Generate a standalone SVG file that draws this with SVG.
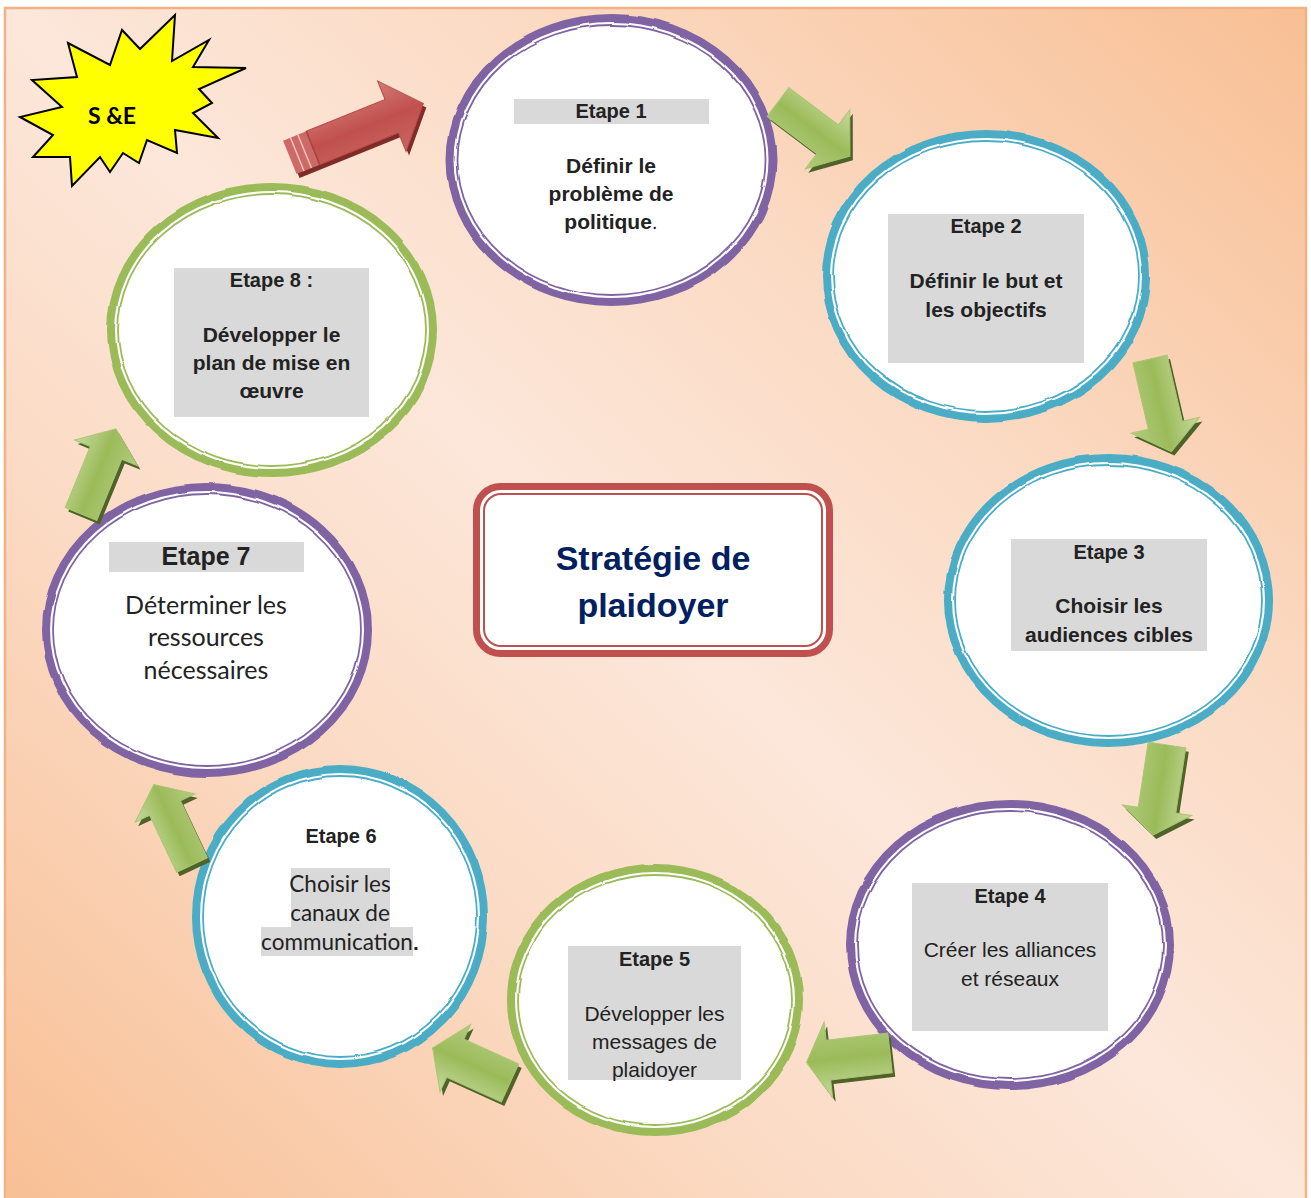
<svg xmlns="http://www.w3.org/2000/svg" width="1311" height="1198" viewBox="0 0 1311 1198">
  <defs>
    <linearGradient id="bg" x1="1" y1="0" x2="0" y2="1">
      <stop offset="0" stop-color="#f8bf94"/>
      <stop offset="0.3" stop-color="#fbdac3"/>
      <stop offset="0.5" stop-color="#fce7da"/>
      <stop offset="0.7" stop-color="#fbdac3"/>
      <stop offset="1" stop-color="#f8bf94"/>
    </linearGradient>
    <linearGradient id="greenFill" x1="0" y1="0" x2="0" y2="1">
      <stop offset="0" stop-color="#c6da9f"/>
      <stop offset="0.5" stop-color="#9bbb59"/>
      <stop offset="1" stop-color="#b2cb80"/>
    </linearGradient>
    <linearGradient id="redFill" x1="0" y1="0" x2="0" y2="1">
      <stop offset="0" stop-color="#d47a77"/>
      <stop offset="0.5" stop-color="#c0504d"/>
      <stop offset="1" stop-color="#c96663"/>
    </linearGradient>
    <!-- gentle hand-drawn waviness for the ring outlines -->
    <filter id="wobble" x="-5%" y="-5%" width="110%" height="110%">
      <feTurbulence type="fractalNoise" baseFrequency="0.03" numOctaves="1" seed="3" result="noise"/>
      <feDisplacementMap in="SourceGraphic" in2="noise" scale="3.5" xChannelSelector="R" yChannelSelector="G"/>
    </filter>
    <style>
      .ring { fill: #ffffff; stroke-width: 8; }
      .line { fill: none; stroke-width: 1.8; }
      .purple { stroke: #8064a2; }
      .teal { stroke: #4bacc6; }
      .green { stroke: #9bbb59; }
      .box { fill: #d9d9d9; }
      .t { font-family: "Liberation Sans", Arial, sans-serif; font-size: 21px; fill: #222222; text-anchor: middle; }
      .b { font-weight: bold; }
      .c { font-family: Lato, "Open Sans", sans-serif; font-size: 25px; fill: #222222; text-anchor: middle; }
      .c6 { font-size: 22.5px; }
      .arrow { fill: url(#greenFill); stroke: #a9c672; stroke-width: 1; }
      .shade { fill: #4f6228; }
    </style>
  </defs>

  <!-- page background -->
  <rect x="0" y="0" width="1311" height="1198" fill="#ffffff"/>
  <rect x="5" y="8" width="1301" height="1200" fill="url(#bg)" stroke="#f4b183" stroke-width="2.5"/>

  <!-- S &E burst -->
  <g id="burst">
    <polygon points="175,15 172,61 209,40 193,67 246,68 199,89 212,103 193,113 218,138 175,130 177,153 147,140 139,163 123,153 110,172 100,157 72,186 70,157 33,157 53,135 20,117 62,107 32,80 77,77 68,43 110,65 122,30 140,49" fill="#ffff00" stroke="#000000" stroke-width="2" stroke-linejoin="miter"/>
    <text x="112" y="124" font-family="Lato, 'Open Sans', sans-serif" font-size="23" font-weight="bold" fill="#000000" text-anchor="middle">S &amp;E</text>
  </g>

  <!-- centre title -->
  <g id="title">
    <rect x="476.5" y="486.5" width="353" height="167" rx="24" fill="#ffffff" stroke="#c0504d" stroke-width="7"/>
    <rect x="484" y="494" width="338" height="152" rx="17" fill="none" stroke="#c0504d" stroke-width="2"/>
    <text class="t b" x="653" y="570" style="fill:#002060;font-size:34px">Stratégie de</text>
    <text class="t b" x="653" y="617" style="fill:#002060;font-size:34px">plaidoyer</text>
  </g>

  <!-- step 1 -->
  <g id="step1">
    <g filter="url(#wobble)">
      <ellipse class="ring purple" cx="611.5" cy="160" rx="161" ry="142"/>
      <ellipse class="line purple" cx="611.5" cy="160" rx="154" ry="135"/>
    </g>
    <rect class="box" x="514" y="99" width="195" height="25"/>
    <text class="t b" x="611" y="118" style="font-size:20px">Etape 1</text>
    <text class="t b" x="611" y="173">Définir le</text>
    <text class="t b" x="611" y="201">problème de</text>
    <text class="t" x="611" y="229"><tspan class="b">politique</tspan>.</text>
  </g>

  <!-- step 2 -->
  <g id="step2">
    <g filter="url(#wobble)">
      <ellipse class="ring teal" cx="986" cy="276" rx="160" ry="142"/>
      <ellipse class="line teal" cx="986" cy="276" rx="153" ry="135"/>
    </g>
    <rect class="box" x="888" y="214" width="196" height="149"/>
    <text class="t b" x="986" y="233" style="font-size:20px">Etape 2</text>
    <text class="t b" x="986" y="288">Définir le but et</text>
    <text class="t b" x="986" y="317">les objectifs</text>
  </g>

  <!-- step 3 -->
  <g id="step3">
    <g filter="url(#wobble)">
      <ellipse class="ring teal" cx="1108.5" cy="600.5" rx="160.5" ry="142.5"/>
      <ellipse class="line teal" cx="1108.5" cy="600.5" rx="153.5" ry="135.5"/>
    </g>
    <rect class="box" x="1011" y="539" width="196" height="112"/>
    <text class="t b" x="1109" y="559" style="font-size:20px">Etape 3</text>
    <text class="t b" x="1109" y="613">Choisir les</text>
    <text class="t b" x="1109" y="642">audiences cibles</text>
  </g>

  <!-- step 4 -->
  <g id="step4">
    <g filter="url(#wobble)">
      <ellipse class="ring purple" cx="1010" cy="945" rx="160" ry="141"/>
      <ellipse class="line purple" cx="1010" cy="945" rx="153" ry="134"/>
    </g>
    <rect class="box" x="912" y="883" width="196" height="148"/>
    <text class="t b" x="1010" y="903" style="font-size:20px">Etape 4</text>
    <text class="t" x="1010" y="957">Créer les alliances</text>
    <text class="t" x="1010" y="986">et réseaux</text>
  </g>

  <!-- step 5 -->
  <g id="step5">
    <g filter="url(#wobble)">
      <ellipse class="ring green" cx="655" cy="1000" rx="144" ry="132"/>
      <ellipse class="line green" cx="655" cy="1000" rx="137" ry="125"/>
    </g>
    <rect class="box" x="568" y="946" width="173" height="134"/>
    <text class="t b" x="654.5" y="966" style="font-size:20px">Etape 5</text>
    <text class="t" x="654.5" y="1021">Développer les</text>
    <text class="t" x="654.5" y="1049">messages de</text>
    <text class="t" x="654.5" y="1077">plaidoyer</text>
  </g>

  <!-- step 6 -->
  <g id="step6">
    <g filter="url(#wobble)">
      <ellipse class="ring teal" cx="340" cy="916.5" rx="144" ry="147.5"/>
      <ellipse class="line teal" cx="340" cy="916.5" rx="137" ry="140.5"/>
    </g>
    <text class="t b" x="341" y="843" style="font-size:20px">Etape 6</text>
    <rect class="box" x="291" y="868" width="99" height="59"/>
    <rect class="box" x="261" y="927" width="152" height="29"/>
    <text class="c c6" x="340" y="892">Choisir les</text>
    <text class="c c6" x="340" y="921">canaux de</text>
    <text class="c c6" x="337" y="950">communication</text>
    <text class="t b" x="416" y="950">.</text>
  </g>

  <!-- step 7 -->
  <g id="step7">
    <g filter="url(#wobble)">
      <ellipse class="ring purple" cx="207" cy="630" rx="161" ry="143"/>
      <ellipse class="line purple" cx="207" cy="630" rx="154" ry="136"/>
    </g>
    <rect class="box" x="109" y="542" width="195" height="30"/>
    <text class="t b" x="206" y="565" style="font-size:25px">Etape 7</text>
    <text class="c" x="206" y="614">Déterminer les</text>
    <text class="c" x="206" y="646">ressources</text>
    <text class="c" x="206" y="679">nécessaires</text>
  </g>

  <!-- step 8 -->
  <g id="step8">
    <g filter="url(#wobble)">
      <ellipse class="ring green" cx="272" cy="330" rx="161" ry="143"/>
      <ellipse class="line green" cx="272" cy="330" rx="154" ry="136"/>
    </g>
    <rect class="box" x="174" y="268" width="195" height="149"/>
    <text class="t b" x="271.5" y="287" style="font-size:20px">Etape 8 :</text>
    <text class="t b" x="271.5" y="342">Développer le</text>
    <text class="t b" x="271.5" y="370">plan de mise en</text>
    <text class="t b" x="271.5" y="398">œuvre</text>
  </g>

  <!-- connectors: block arrows between the steps -->
  <g id="connectors">
    <!-- 8 to 1 (red) -->
    <g transform="translate(316,152) rotate(-22)">
      <path d="M-25,-18 L85,-18 L85,-38 L119,0 L85,38 L85,18 L-25,18 Z" fill="#7f2b28"/>
    </g>
    <g transform="translate(313,148) rotate(-22)">
      <path d="M0,-18 L85,-18 L85,-38 L119,0 L85,38 L85,18 L0,18 Z" fill="url(#redFill)" stroke="#b84a47" stroke-width="1"/>
      <rect x="-25" y="-18" width="25" height="36" fill="#cc6a67"/>
      <line x1="-17" y1="-18" x2="-17" y2="18" stroke="#f0c0bc" stroke-width="1.5"/>
      <line x1="-9" y1="-18" x2="-9" y2="18" stroke="#f0c0bc" stroke-width="1.5"/>
      <line x1="0" y1="-18" x2="0" y2="18" stroke="#a8423f" stroke-width="1.5"/>
    </g>

    <!-- 1 to 2 -->
    <g transform="translate(781,106) rotate(37)"><path class="shade" d="M0,-18 L62,-18 L62,-37 L90,0 L62,37 L62,18 L0,18 Z"/></g>
    <g transform="translate(778,102) rotate(37)"><path class="arrow" d="M0,-18 L62,-18 L62,-37 L90,0 L62,37 L62,18 L0,18 Z"/></g>

    <!-- 2 to 3 -->
    <g transform="translate(1153,363) rotate(77)"><path class="shade" d="M0,-17.5 L68,-17.5 L68,-35 L95,0 L68,35 L68,17.5 L0,17.5 Z"/></g>
    <g transform="translate(1150,359) rotate(77)"><path class="arrow" d="M0,-17.5 L68,-17.5 L68,-35 L95,0 L68,35 L68,17.5 L0,17.5 Z"/></g>

    <!-- 3 to 4 -->
    <g transform="translate(1170,749) rotate(98.7)"><path class="shade" d="M0,-19 L66,-19 L66,-35 L91,0 L66,35 L66,19 L0,19 Z"/></g>
    <g transform="translate(1167,745) rotate(98.7)"><path class="arrow" d="M0,-19 L66,-19 L66,-35 L91,0 L66,35 L66,19 L0,19 Z"/></g>

    <!-- 4 to 5 -->
    <g transform="translate(893,1057) rotate(173.5)"><path class="shade" d="M0,-20 L62,-20 L62,-38 L84,0 L62,38 L62,20 L0,20 Z"/></g>
    <g transform="translate(890,1053) rotate(173.5)"><path class="arrow" d="M0,-20 L62,-20 L62,-38 L84,0 L62,38 L62,20 L0,20 Z"/></g>

    <!-- 5 to 6 -->
    <g transform="translate(513,1087) rotate(204.4)"><path class="shade" d="M0,-21 L60,-21 L60,-37 L85,0 L60,37 L60,21 L0,21 Z"/></g>
    <g transform="translate(510,1083) rotate(204.4)"><path class="arrow" d="M0,-21 L60,-21 L60,-37 L85,0 L60,37 L60,21 L0,21 Z"/></g>

    <!-- 6 to 7 -->
    <g transform="translate(195,869) rotate(244.6)"><path class="shade" d="M0,-17 L63,-17 L63,-33 L89,0 L63,33 L63,17 L0,17 Z"/></g>
    <g transform="translate(192,865) rotate(244.6)"><path class="arrow" d="M0,-17 L63,-17 L63,-33 L89,0 L63,33 L63,17 L0,17 Z"/></g>

    <!-- 7 to 8 -->
    <g transform="translate(84,518) rotate(-67.7)"><path class="shade" d="M0,-17 L66,-17 L66,-34 L92,0 L66,34 L66,17 L0,17 Z"/></g>
    <g transform="translate(81,514) rotate(-67.7)"><path class="arrow" d="M0,-17 L66,-17 L66,-34 L92,0 L66,34 L66,17 L0,17 Z"/></g>
  </g>
</svg>
